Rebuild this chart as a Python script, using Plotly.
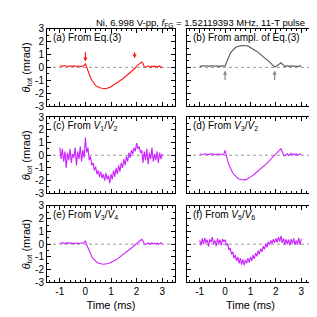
import numpy as np
import plotly.graph_objects as go

time_ms = [round(-1 + 0.05 * i, 2) for i in range(81)]

theta_a = [0.1, 0.12, 0.08, 0.1, 0.14, 0.09, 0.11, 0.07, 0.12, 0.1, 0.08, 0.13, 0.1, 0.06, 0.11, 0.09, 0.12, 0.08, 0.1, 0.15,
           0.3, 0.0, -0.3, -0.55, -0.8, -1.0, -1.15, -1.3, -1.4, -1.47, -1.53, -1.56, -1.6, -1.62, -1.64, -1.63, -1.65, -1.62, -1.6, -1.55,
           -1.5, -1.44, -1.38, -1.32, -1.26, -1.18, -1.12, -1.04, -0.97, -0.9, -0.82, -0.74, -0.66, -0.58, -0.5, -0.42, -0.33, -0.25, -0.15, -0.05,
           0.1, 0.2, 0.28, 0.32, 0.42, 0.3, 0.05, 0.0, 0.05, 0.12, 0.08, -0.02, 0.1, 0.03, 0.12, 0.0, 0.08, 0.05, 0.12, -0.02, 0.06]

theta_b = [0.1, 0.08, 0.12, 0.1, 0.09, 0.11, 0.13, 0.1, 0.08, 0.12, 0.1, 0.09, 0.11, 0.1, 0.12, 0.08, 0.1, 0.11, 0.09, 0.12,
           0.12, 0.4, 0.65, 0.88, 1.07, 1.22, 1.35, 1.45, 1.52, 1.58, 1.63, 1.66, 1.68, 1.7, 1.7, 1.71, 1.7, 1.68, 1.65, 1.6,
           1.55, 1.5, 1.44, 1.38, 1.3, 1.24, 1.16, 1.08, 1.0, 0.93, 0.85, 0.77, 0.7, 0.62, 0.52, 0.43, 0.33, 0.22, 0.12, 0.06,
           0.05, 0.12, 0.22, 0.3, 0.36, 0.25, 0.12, 0.08, 0.1, 0.12, 0.08, 0.11, 0.09, 0.12, 0.08, 0.1, 0.11, 0.07, 0.1, 0.12, 0.09]

theta_c = [0.6, -0.3, 0.5, -0.5, 0.3, -1.0, 0.2, -0.4, 0.5, -0.6, 0.1, -0.2, 0.6, -0.8, 0.3, -0.3, 0.7, -0.5, 0.4, -0.2,
           1.4, 0.2, 0.6, -0.4, -0.1, -0.8, -0.6, -1.2, -0.9, -1.5, -1.2, -1.7, -1.3, -1.8, -1.5, -2.0, -1.4, -1.9, -1.6, -2.2,
           -1.5, -1.9, -1.2, -1.7, -1.0, -1.5, -0.8, -1.3, -0.6, -1.0, -0.3, -0.8, -0.1, -0.5, 0.2, -0.2, 0.4, 0.1, 0.6, 0.3,
           0.95, 0.5, 0.7, 0.2, 0.4, -0.6, 0.3, -0.4, 0.5, -0.7, 0.2, -0.3, 0.6, -0.5, 0.1, -0.4, 0.3, -0.6, 0.2, -0.3, 0.1]

theta_d = [0.1, 0.08, 0.12, 0.06, 0.1, 0.11, 0.05, 0.1, 0.09, 0.12, 0.07, 0.1, 0.08, 0.02, 0.1, 0.06, 0.09, 0.04, 0.08, 0.1,
           0.38, -0.1, -0.45, -0.75, -1.0, -1.2, -1.38, -1.52, -1.65, -1.75, -1.82, -1.87, -1.9, -1.93, -1.95, -1.92, -1.96, -1.9, -1.85, -1.78,
           -1.72, -1.65, -1.58, -1.5, -1.42, -1.35, -1.26, -1.18, -1.1, -1.0, -0.92, -0.82, -0.72, -0.62, -0.52, -0.42, -0.3, -0.2, -0.08, 0.05,
           0.15, 0.25, 0.35, 0.45, 0.52, 0.3, 0.0, -0.05, 0.05, 0.12, -0.02, 0.1, 0.15, 0.0, 0.1, 0.05, 0.12, -0.03, 0.08, 0.1, 0.05]

theta_e = [0.1, 0.08, 0.12, 0.09, 0.05, 0.1, 0.07, 0.12, 0.06, 0.1, 0.08, 0.03, 0.09, 0.06, 0.1, 0.04, 0.08, 0.06, 0.1, 0.12,
           0.27, -0.05, -0.3, -0.55, -0.78, -0.97, -1.12, -1.25, -1.35, -1.42, -1.48, -1.52, -1.55, -1.56, -1.57, -1.56, -1.57, -1.54, -1.52, -1.48,
           -1.44, -1.4, -1.34, -1.28, -1.22, -1.15, -1.08, -1.0, -0.93, -0.86, -0.78, -0.7, -0.62, -0.54, -0.46, -0.38, -0.3, -0.21, -0.12, -0.03,
           0.08, 0.17, 0.25, 0.33, 0.38, 0.26, 0.02, -0.02, 0.06, 0.1, 0.0, 0.08, 0.12, 0.02, 0.09, 0.04, 0.1, -0.02, 0.08, 0.1, 0.04]

theta_f = [0.3, -0.1, 0.45, 0.0, 0.5, 0.1, 0.35, -0.2, 0.4, 0.15, 0.55, 0.0, 0.3, -0.15, 0.45, 0.05, 0.35, -0.1, 0.4, 0.2,
           0.35, -0.1, 0.05, -0.45, -0.3, -0.8, -0.6, -1.1, -0.85, -1.3, -1.0, -1.5, -1.1, -1.6, -1.2, -1.65, -1.25, -1.5, -1.1, -1.45,
           -1.0, -1.3, -0.85, -1.15, -0.7, -0.95, -0.5, -0.8, -0.35, -0.6, -0.15, -0.4, 0.05, -0.25, 0.2, -0.05, 0.3, 0.05, 0.4, 0.1,
           0.45, 0.15, 0.55, 0.2, 0.65, 0.1, 0.45, -0.05, 0.4, 0.0, 0.35, -0.1, 0.4, 0.05, 0.45, -0.05, 0.3, 0.0, 0.5, -0.05, 0.4]

series = [theta_a, theta_b, theta_c, theta_d, theta_e, theta_f]
labels = ["(a) From Eq.(3)", "(b) From ampl. of Eq.(3)",
          "(c) From <i>V</i><sub>1</sub>/<i>V</i><sub>2</sub>",
          "(d) From <i>V</i><sub>3</sub>/<i>V</i><sub>2</sub>",
          "(e) From <i>V</i><sub>3</sub>/<i>V</i><sub>4</sub>",
          "(f) From <i>V</i><sub>5</sub>/<i>V</i><sub>6</sub>"]
colors = ["#ff1a1a", "#555555", "#cc22ff", "#cc22ff", "#cc22ff", "#cc22ff"]

arrow_a_t = [0.0, 1.92]
arrow_a_tip = [0.45, 0.7]
arrow_a_tail = [1.3, 1.3]
arrow_b_t = [0.0, 1.95]
arrow_b_tip = [-0.25, -0.25]
arrow_b_tail = [-1.1, -1.1]

title_text = "Ni, 6.998 V-pp, <i>f</i><sub>FG</sub> = 1.52119393 MHz, 11-T pulse"

W = H = 317
col_px = [(39, 167), (179, 306)]
row_px = [(15.3, 95.7), (107.3, 186.3), (199.5, 279)]

fig = go.Figure()
FONT = "Liberation Sans, Arial, sans-serif"

for i, (ys, lab, col) in enumerate(zip(series, labels, colors)):
    r, c = divmod(i, 2)
    n = i + 1
    xa = "x" if n == 1 else f"x{n}"
    ya = "y" if n == 1 else f"y{n}"
    fig.add_trace(go.Scatter(x=time_ms, y=ys, mode="lines",
                             line=dict(color=col, width=1.1),
                             xaxis=xa, yaxis=ya, showlegend=False))
    x0, x1 = col_px[c]
    y0, y1 = row_px[r]
    xkey = "xaxis" if n == 1 else f"xaxis{n}"
    ykey = "yaxis" if n == 1 else f"yaxis{n}"
    fig.layout[xkey] = dict(
        domain=[x0 / W, x1 / W], range=[-1.5, 3.5], anchor=ya,
        tickmode="array", tickvals=[-1, 0, 1, 2, 3],
        ticktext=["-1", "0", "1", "2", "3"],
        showticklabels=(r == 2), ticks="inside", ticklen=4, tickcolor="black",
        minor=dict(dtick=0.2, ticks="inside", ticklen=2, tickcolor="black", showgrid=False),
        mirror="allticks", showline=True, linecolor="black", linewidth=1,
        showgrid=False, zeroline=False,
        tickfont=dict(family=FONT, size=10, color="black"),
        title=dict(text="Time (ms)" if r == 2 else "", font=dict(family=FONT, size=11, color="black"), standoff=4),
    )
    fig.layout[ykey] = dict(
        domain=[1 - y1 / H, 1 - y0 / H], range=[-3, 3], anchor=xa,
        tickmode="array", tickvals=[-3, -2, -1, 0, 1, 2, 3],
        ticktext=["-3", "-2", "-1", "0", "1", "2", "3"],
        showticklabels=(c == 0), ticks="inside", ticklen=4, tickcolor="black",
        minor=dict(dtick=0.5, ticks="inside", ticklen=2, tickcolor="black", showgrid=False),
        mirror="allticks", showline=True, linecolor="black", linewidth=1,
        showgrid=False, zeroline=False,
        tickfont=dict(family=FONT, size=10, color="black"),
        title=dict(text="<i>θ</i><sub>tot</sub> (mrad)" if c == 0 else "",
                   font=dict(family=FONT, size=11, color="black"), standoff=2),
    )
    fig.add_shape(type="line", xref=f"{xa} domain", yref=ya, x0=0, x1=1, y0=0, y1=0,
                  line=dict(color="#999999", width=1, dash="dot"), layer="below")
    fig.add_annotation(text=lab, xref=f"{xa} domain", yref=f"{ya} domain",
                       x=0.03, y=0.985, xanchor="left", yanchor="top", showarrow=False,
                       font=dict(family=FONT, size=10, color="black"))

for t, tip, tail in zip(arrow_a_t, arrow_a_tip, arrow_a_tail):
    fig.add_annotation(x=t, y=tip, ax=t, ay=tail, xref="x", yref="y", axref="x", ayref="y",
                       showarrow=True, arrowhead=2, arrowsize=0.7, arrowwidth=1.2,
                       arrowcolor="#ff1a1a", text="")
for t, tip, tail in zip(arrow_b_t, arrow_b_tip, arrow_b_tail):
    fig.add_annotation(x=t, y=tip, ax=t, ay=tail, xref="x2", yref="y2", axref="x2", ayref="y2",
                       showarrow=True, arrowhead=2, arrowsize=0.7, arrowwidth=1.2,
                       arrowcolor="#888888", text="")

fig.add_annotation(text=title_text, xref="paper", yref="paper", x=299 / W, y=1 - 1 / H,
                   xanchor="right", yanchor="top", showarrow=False,
                   font=dict(family=FONT, size=9.5, color="black"))

fig.update_layout(width=W, height=H, margin=dict(l=0, r=0, t=0, b=0),
                  paper_bgcolor="white", plot_bgcolor="white")

fig.write_html("out.html")
